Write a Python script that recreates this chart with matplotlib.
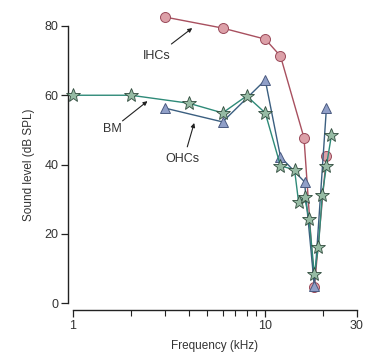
import matplotlib
matplotlib.use("Agg")
import matplotlib.pyplot as plt
from matplotlib.ticker import FixedLocator, NullFormatter

plt.rcParams['font.family'] = ['Liberation Sans', 'DejaVu Sans']

# IHCs (circles)
ihc_f = [3, 6, 10, 12, 15.9, 18.0, 20.8]
ihc_db = [82.6, 79.4, 76.2, 71.3, 47.7, 4.6, 42.5]

# OHCs (triangles)
ohc_f = [3, 6, 10, 12, 16.0, 18.0, 20.8]
ohc_db = [56.3, 52.3, 64.4, 42.2, 35.0, 4.9, 56.3]

# BM (stars)
bm_f = [1, 2, 4, 6, 8, 10, 12, 14.2, 14.9, 16.0, 16.9, 18.0, 18.9, 19.8, 20.8, 22.1]
bm_db = [60, 60, 57.7, 54.9, 59.8, 54.9, 39.6, 38.5, 29.2, 30.6, 24.3, 8.4, 16.2, 31.3, 39.6, 48.5]

x_major = [1, 10, 30]
x_minor = [2, 3, 4, 5, 6, 7, 8, 9, 20]
y_ticks = [0, 20, 40, 60, 80]

W, H = 379, 357
fig = plt.figure(figsize=(W / 100, H / 100), dpi=100)
ax = fig.add_axes([73 / W, (H - 303) / H, (357 - 73) / W, (303 - 26) / H])

txt = '#333333'

ax.plot(ihc_f, ihc_db, color='#a8505f', lw=1.0, marker='o', ms=7.2,
        mfc='#dca0a8', mec='#9a4a5a', mew=0.7, clip_on=False, zorder=3)
ax.plot(ohc_f, ohc_db, color='#3b5f80', lw=1.0, marker='^', ms=7.5,
        mfc='#909fc8', mec='#4a5a80', mew=0.7, clip_on=False, zorder=4)
ax.plot(bm_f, bm_db, color='#2e8a78', lw=1.0, marker='*', ms=10,
        mfc='#96bba4', mec='#2f4a3c', mew=0.6, clip_on=False, zorder=5)

ax.set_xscale('log')
ax.set_xlim(1, 30)
ax.set_ylim(0, 80)

ax.xaxis.set_major_locator(FixedLocator(x_major))
ax.xaxis.set_minor_locator(FixedLocator(x_minor))
ax.xaxis.set_minor_formatter(NullFormatter())
ax.set_xticklabels([str(v) for v in x_major])
ax.set_yticks(y_ticks)

for s in ['top', 'right']:
    ax.spines[s].set_visible(False)
ax.spines['left'].set_position(('outward', 3.6))
ax.spines['bottom'].set_position(('outward', 5))
ax.spines['left'].set_bounds(0, 80)
ax.spines['bottom'].set_bounds(1, 30)
for s in ['left', 'bottom']:
    ax.spines[s].set_linewidth(1.0)
    ax.spines[s].set_color('#222222')

ax.tick_params(axis='both', which='major', direction='out', length=5, width=0.9,
               color='#222222', labelsize=9, labelcolor=txt, pad=2)
ax.tick_params(axis='x', which='minor', direction='out', length=4, width=0.8,
               color='#222222')

ax.set_xlabel('Frequency (kHz)', fontsize=8.5, color=txt, labelpad=6)
ax.set_ylabel('Sound level (dB SPL)', fontsize=8.5, color=txt, labelpad=7)

arrow = dict(arrowstyle='-|>', lw=0.8, color='#222222', mutation_scale=6,
             shrinkA=0, shrinkB=0)

ax.text(2.72, 71.3, 'IHCs', fontsize=9, color=txt, ha='center', va='center')
ax.annotate('', xy=(4.17, 79.4), xytext=(3.25, 74.8), arrowprops=arrow)

ax.text(1.61, 50.3, 'BM', fontsize=9, color=txt, ha='center', va='center')
ax.annotate('', xy=(2.44, 58.3), xytext=(1.81, 52.6), arrowprops=arrow)

ax.text(3.70, 41.6, 'OHCs', fontsize=9, color=txt, ha='center', va='center')
ax.annotate('', xy=(4.27, 52.0), xytext=(3.93, 45.1), arrowprops=arrow)

fig.savefig('out.png', dpi=100)
